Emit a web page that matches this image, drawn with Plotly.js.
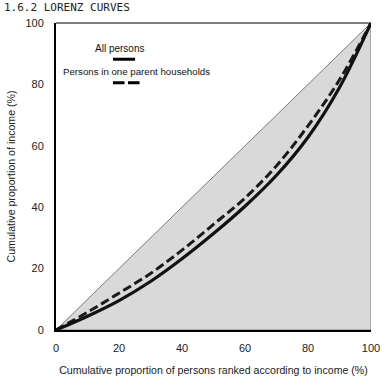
<!DOCTYPE html>
<html>
<head>
<meta charset="utf-8">
<script src="https://cdn.plot.ly/plotly-3.0.1.min.js"></script>
<style>html,body{margin:0;padding:0;background:#fff;}#chart{width:390px;height:386px;}</style>
</head>
<body>
<div id="chart"></div>
<script>
// Cumulative proportion of persons (%)
var persons = [0, 10, 20, 30, 40, 50, 60, 70, 80, 90, 100];
// Cumulative proportion of income (%) - all persons
var allPersons = [0, 4.5, 9.6, 15.8, 23.2, 31.4, 40.3, 50.4, 62.8, 79.0, 100];
// Cumulative proportion of income (%) - persons in one parent households
var oneParent = [0, 5.8, 12.0, 18.4, 26.0, 34.4, 43.0, 53.5, 66.5, 81.5, 100];
// Line of equality triangle
var equalityX = [0, 100, 100, 0];
var equalityY = [0, 100, 0, 0];
var xTicks = [0, 20, 40, 60, 80, 100];
var yTicks = [0, 20, 40, 60, 80, 100];
var seriesNames = ['All persons', 'Persons in one parent households'];
var chartTitle = '1.6.2 LORENZ CURVES';

var traces = [
  {x: equalityX, y: equalityY, mode: 'lines', fill: 'toself', fillcolor: '#d9d9d9',
   line: {color: '#7a7a7a', width: 1}, hoverinfo: 'skip', showlegend: false},
  {x: persons, y: oneParent, mode: 'lines', name: seriesNames[1],
   line: {color: '#1a1a1a', width: 3, dash: '9px,4px', shape: 'spline', smoothing: 1}, showlegend: false},
  {x: persons, y: allPersons, mode: 'lines', name: seriesNames[0],
   line: {color: '#111', width: 3.2, shape: 'spline', smoothing: 1}, showlegend: false}
];

var axisFont = {family: 'Liberation Sans, Arial, sans-serif', size: 11, color: '#222'};
var titleFont = {family: 'Liberation Sans, Arial, sans-serif', size: 10.6, color: '#222'};
var layout = {
  width: 390, height: 386,
  margin: {l: 56, r: 19, t: 23, b: 56},
  paper_bgcolor: '#fff', plot_bgcolor: '#fff',
  font: axisFont,
  xaxis: {
    range: [0, 100], tickvals: xTicks, ticktext: xTicks.map(String),
    showgrid: false, zeroline: false, showline: true, linecolor: '#000', linewidth: 2,
    ticks: 'outside', ticklen: 7, tickcolor: 'rgba(0,0,0,0)', tickfont: axisFont,
    title: {text: 'Cumulative proportion of persons ranked according to income (%)',
      font: titleFont, standoff: 13},
    fixedrange: true
  },
  yaxis: {
    range: [0, 100], tickvals: yTicks, ticktext: yTicks.map(String),
    showgrid: false, zeroline: false, showline: true, linecolor: '#000', linewidth: 2,
    ticks: 'outside', ticklen: 8, tickcolor: 'rgba(0,0,0,0)', tickfont: axisFont,
    title: {text: 'Cumulative proportion of income (%)', font: titleFont, standoff: 8},
    fixedrange: true
  },
  shapes: [
    {type: 'line', xref: 'paper', yref: 'paper', x0: 0, x1: 1, y0: 1, y1: 1, line: {color: '#000', width: 1}},
    {type: 'line', xref: 'x', yref: 'y', x0: 18.1, x1: 25.1, y0: 88.2, y1: 88.2, line: {color: '#000', width: 3}},
    {type: 'line', xref: 'x', yref: 'y', x0: 18.1, x1: 26.7, y0: 80.5, y1: 80.5, line: {color: '#000', width: 3, dash: '11.5px,3.5px'}}
  ],
  annotations: [
    {text: chartTitle, xref: 'paper', yref: 'paper', x: -0.171, y: 1.052, xanchor: 'left', yanchor: 'middle',
     showarrow: false, font: {family: 'DejaVu Sans Mono, monospace', size: 11, color: '#222'}},
    {text: seriesNames[0], xref: 'x', yref: 'y', x: 20.2, y: 91.7, xanchor: 'center', yanchor: 'middle',
     showarrow: false, font: {family: 'Liberation Sans, Arial, sans-serif', size: 10, color: '#111'}},
    {text: seriesNames[1], xref: 'x', yref: 'y', x: 1.6, y: 84.1, xanchor: 'left', yanchor: 'middle',
     showarrow: false, font: {family: 'Liberation Sans, Arial, sans-serif', size: 9.7, color: '#111'}}
  ],
  showlegend: false
};

Plotly.newPlot('chart', traces, layout, {displayModeBar: false, staticPlot: true});
</script>
</body>
</html>
